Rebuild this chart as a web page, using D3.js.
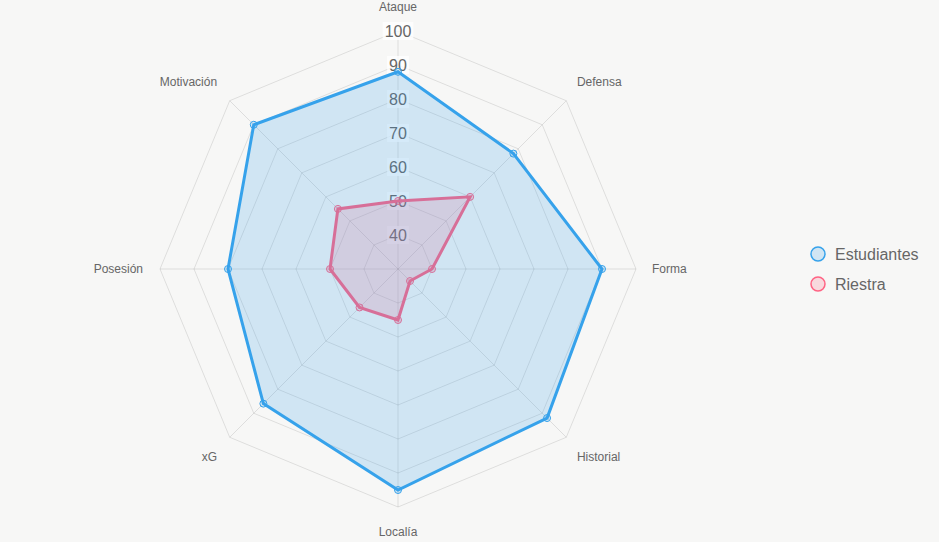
<!DOCTYPE html>
<html><head><meta charset="utf-8">
<script src="https://cdn.jsdelivr.net/npm/d3@7"></script>
<style>
html,body{margin:0;padding:0;background:#f7f7f6;}
svg{display:block;font-family:"Liberation Sans",Arial,Helvetica,sans-serif;}
</style></head>
<body>
<svg id="chart" width="939" height="542"></svg>
<script>
const categories = ["Ataque","Defensa","Forma","Historial","Localía","xG","Posesión","Motivación"];
const estudiantes = [88, 78, 90, 92, 95, 86, 80, 90];
const riestra = [50, 60, 40, 35, 45, 46, 50, 55];
const tickValues = [40, 50, 60, 70, 80, 90, 100];
const seriesNames = ["Estudiantes", "Riestra"];

const W = 939, H = 542;
const cx = 398, cy = 269, R = 238;
const svg = d3.select("#chart");
svg.append("rect").attr("width", W).attr("height", H).attr("fill", "#f7f7f6");

const r = d3.scaleLinear().domain([30, 100]).range([0, R]);
const n = categories.length;
const ang = i => -Math.PI / 2 + i * 2 * Math.PI / n;
const pt = (i, rad) => [cx + rad * Math.cos(ang(i)), cy + rad * Math.sin(ang(i))];

const g = svg.append("g");
tickValues.forEach(v => {
  const pts = d3.range(n).map(i => pt(i, r(v)));
  g.append("polygon").attr("points", pts.map(p => p.join(",")).join(" "))
    .attr("fill", "none").attr("stroke", "rgba(0,0,0,0.1)").attr("stroke-width", 1);
});
d3.range(n).forEach(i => {
  const p = pt(i, R);
  g.append("line").attr("x1", cx).attr("y1", cy).attr("x2", p[0]).attr("y2", p[1])
    .attr("stroke", "rgba(0,0,0,0.1)").attr("stroke-width", 1);
});
tickValues.forEach(v => {
  const y = cy - r(v);
  const txt = String(v);
  const w = txt.length * 8.9;
  g.append("rect").attr("x", cx - w / 2 - 2).attr("y", y - 9).attr("width", w + 4).attr("height", 18)
    .attr("fill", "rgba(255,255,255,0.75)");
  g.append("text").attr("x", cx).attr("y", y).attr("text-anchor", "middle")
    .attr("dominant-baseline", "central").attr("font-size", 16).attr("fill", "#666").text(txt);
});
categories.forEach((c, i) => {
  const a = ang(i);
  const cs = Math.cos(a), sn = Math.sin(a);
  const p = pt(i, R + 15);
  let anchor = Math.abs(cs) < 0.01 ? "middle" : (cs > 0 ? "start" : "end");
  let y, baseline;
  if (sn < -0.99) { y = cy - R - 20; baseline = "auto"; }
  else if (sn > 0.99) { y = cy + R + 20; baseline = "hanging"; }
  else if (Math.abs(sn) < 0.01) { baseline = "central"; y = cy; }
  else if (sn < 0) { baseline = "auto"; y = p[1] - 4; }
  else { baseline = "hanging"; y = p[1] + 4; }
  let x = p[0];
  if (Math.abs(sn) < 0.01) x = cs > 0 ? cx + R + 16 : cx - R - 17;
  else if (cs < 0) x = p[0] - 2;
  svg.append("text").attr("x", x).attr("y", y).attr("text-anchor", anchor)
    .attr("dominant-baseline", baseline).attr("font-size", 12).attr("fill", "#666").text(c);
});

const series = [
  {name: "Riestra", values: riestra, stroke: "rgb(255,99,132)", fill: "rgba(255,99,132,0.2)"},
  {name: "Estudiantes", values: estudiantes, stroke: "rgb(54,162,235)", fill: "rgba(54,162,235,0.2)"}
];
const line = d3.lineRadial().angle((d, i) => i * 2 * Math.PI / n).radius(d => r(d)).curve(d3.curveLinearClosed);
series.forEach(s => {
  const sg = svg.append("g").attr("transform", `translate(${cx},${cy})`);
  sg.append("path").attr("d", line(s.values)).attr("fill", s.fill)
    .attr("stroke", s.stroke).attr("stroke-width", 3).attr("stroke-linejoin", "miter");
  s.values.forEach((v, i) => {
    const p = pt(i, r(v));
    svg.append("circle").attr("cx", p[0]).attr("cy", p[1]).attr("r", 3.5)
      .attr("fill", s.fill).attr("stroke", s.stroke).attr("stroke-width", 1);
  });
});

const legend = [
  {name: seriesNames[0], stroke: "rgb(54,162,235)", fill: "rgba(54,162,235,0.2)"},
  {name: seriesNames[1], stroke: "rgb(255,99,132)", fill: "rgba(255,99,132,0.2)"}
];
legend.forEach((l, i) => {
  const y = 254 + i * 30;
  svg.append("circle").attr("cx", 818).attr("cy", y).attr("r", 7)
    .attr("fill", l.fill).attr("stroke", l.stroke).attr("stroke-width", 1.5);
  svg.append("text").attr("x", 835).attr("y", y).attr("dominant-baseline", "central")
    .attr("font-size", 16).attr("fill", "#666").text(l.name);
});
</script>
</body></html>
